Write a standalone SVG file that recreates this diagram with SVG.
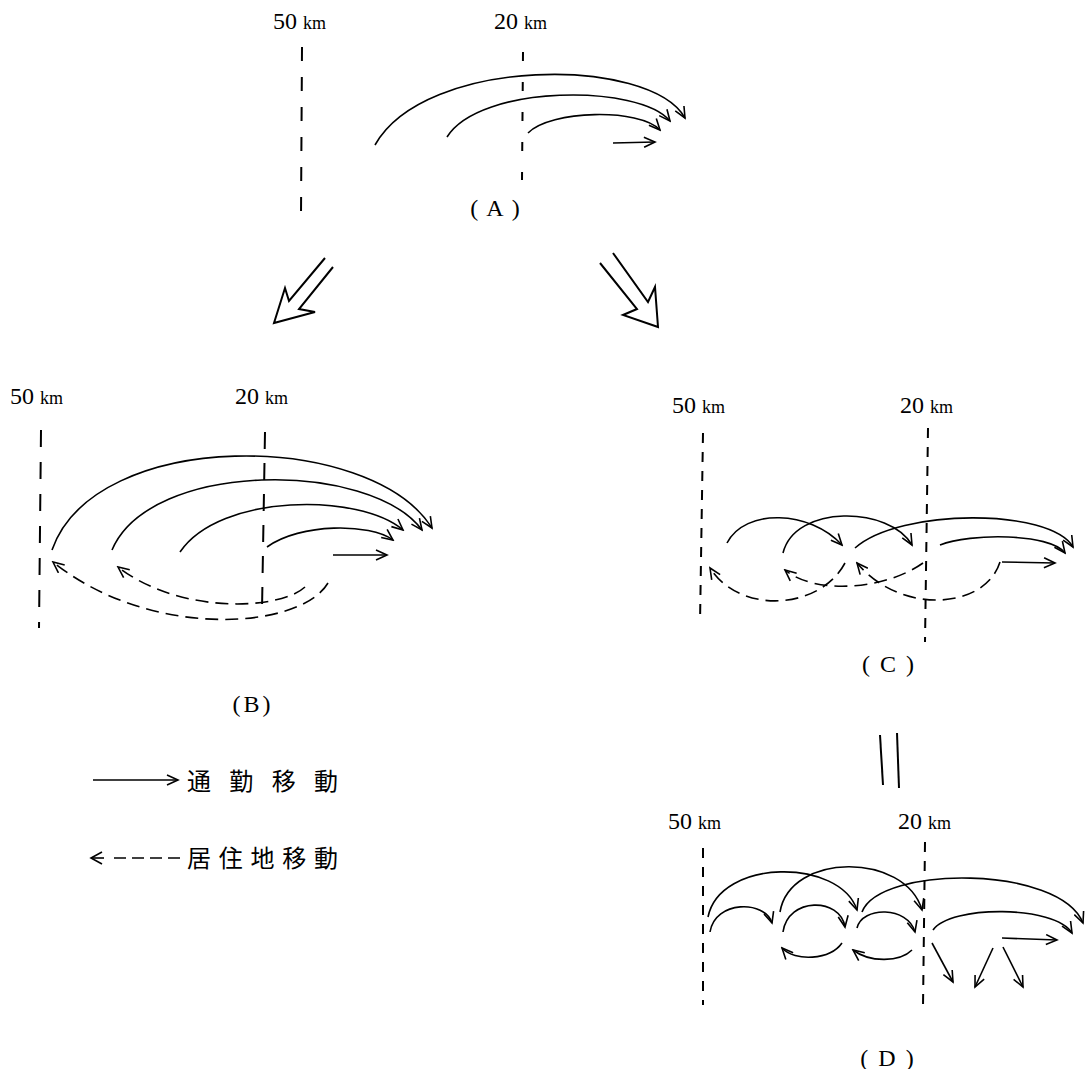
<svg xmlns="http://www.w3.org/2000/svg" width="1089" height="1069" viewBox="0 0 1089 1069">
<style>
.bg{fill:#fff}
.lbl{font-family:"Liberation Serif","Noto Sans CJK JP",serif;font-size:24px;fill:#000}
.km{font-size:18px}
.cap{font-family:"Liberation Serif","Noto Sans CJK JP",serif;font-size:24px;fill:#000;text-anchor:middle}
.leg{font-family:"Noto Sans CJK JP","Noto Sans CJK SC",sans-serif;font-size:24px;fill:#000}
.axis{stroke:#000;stroke-width:2;fill:none;stroke-dasharray:14 16}
.axisc{stroke:#000;stroke-width:2;fill:none;stroke-dasharray:10 9}
.c{stroke:#000;stroke-width:1.6;fill:none;marker-end:url(#ah)}
.r{stroke:#000;stroke-width:1.6;fill:none;stroke-dasharray:13 7;marker-end:url(#ah)}
.big{stroke:#000;stroke-width:2;fill:none;stroke-linejoin:miter}
</style>
<defs>
<marker id="ah" markerUnits="userSpaceOnUse" markerWidth="14" markerHeight="12" viewBox="0 0 14 12" refX="12" refY="6" orient="auto">
<path d="M1,1 L12,6 L1,11" fill="none" stroke="#000" stroke-width="1.6"/>
</marker>
</defs>
<rect class="bg" x="0" y="0" width="1089" height="1069"/>

<g id="panelA">
<text class="lbl" x="273" y="29">50 <tspan class="km">km</tspan></text>
<text class="lbl" x="494" y="29">20 <tspan class="km">km</tspan></text>
<line class="axis" x1="302" y1="47" x2="301" y2="217"/>
<line class="axis" x1="523" y1="52" x2="522" y2="180" style="stroke-dasharray:9 21"/>
<text class="cap" x="499" y="216" letter-spacing="8">(A)</text>
</g>

<g id="panelB">
<text class="lbl" x="10" y="404">50 <tspan class="km">km</tspan></text>
<text class="lbl" x="235" y="404">20 <tspan class="km">km</tspan></text>
<line class="axis" x1="41" y1="430" x2="39" y2="628" style="stroke-dasharray:17 15"/>
<line class="axis" x1="265" y1="432" x2="262" y2="610" style="stroke-dasharray:17 14"/>
<text class="cap" x="253" y="712" letter-spacing="3">(B)</text>
</g>

<g id="panelC">
<text class="lbl" x="672" y="413">50 <tspan class="km">km</tspan></text>
<text class="lbl" x="900" y="413">20 <tspan class="km">km</tspan></text>
<line class="axisc" x1="703" y1="433" x2="700" y2="623"/>
<line class="axisc" x1="928" y1="428" x2="925" y2="642"/>
<text class="cap" x="893" y="672" letter-spacing="10">(C)</text>
</g>

<g id="panelD">
<text class="lbl" x="668" y="829">50 <tspan class="km">km</tspan></text>
<text class="lbl" x="898" y="829">20 <tspan class="km">km</tspan></text>
<line class="axisc" x1="703" y1="848" x2="703" y2="1005"/>
<line class="axisc" x1="925" y1="842" x2="923" y2="1007"/>
<text class="cap" x="892" y="1066" letter-spacing="10">(D)</text>
</g>

<g id="legend">
<line x1="93" y1="780" x2="178" y2="780" stroke="#000" stroke-width="1.6" marker-end="url(#ah)"/>
<text class="leg" x="187" y="790" textLength="151" lengthAdjust="spacing">通 勤 移 動</text>
<line x1="180" y1="858" x2="112" y2="858" stroke="#000" stroke-width="1.6" stroke-dasharray="12 6"/>
<line x1="92" y1="858" x2="104" y2="858" stroke="#000" stroke-width="1.6"/>
<path d="M102,852 L91,858 L102,864" fill="none" stroke="#000" stroke-width="1.6"/>
<text class="leg" x="187" y="867" textLength="151" lengthAdjust="spacing">居住地移動</text>
</g>

<g id="transitions">
<polyline class="big" points="325,258 289,301 285,288 274,323 315,312 299,309 333,267"/>
<polyline class="big" points="600,263 637,309 623,315 658,327 655,287 648,302 613,253"/>
<line x1="880" y1="735" x2="883" y2="785" stroke="#000" stroke-width="2"/>
<line x1="897" y1="733" x2="899" y2="788" stroke="#000" stroke-width="2"/>
</g>

<g id="connectors">
<!-- A -->
<path class="c" d="M375,145 C425,56 650,56 685,118"/>
<path class="c" d="M447,137 C480,84 640,84 670,121"/>
<path class="c" d="M528,133 C550,110 640,108 660,130"/>
<path class="c" d="M613,143 L655,142"/>
<!-- B -->
<path class="c" d="M52,550 C95,427 370,430 432,528"/>
<path class="c" d="M112,550 C150,460 370,460 422,530"/>
<path class="c" d="M180,552 C220,493 360,493 403,530"/>
<path class="c" d="M267,547 C300,523 370,523 393,540"/>
<path class="c" d="M333,555 L387,555"/>
<path class="r" d="M328,583 C300,630 150,640 53,562"/>
<path class="r" d="M305,587 C280,610 180,615 118,567"/>
<!-- C -->
<path class="c" d="M727,543 C745,508 810,510 842,545"/>
<path class="c" d="M783,553 C795,504 890,506 912,545"/>
<path class="c" d="M855,548 C900,508 1050,508 1073,547"/>
<path class="c" d="M940,545 C970,533 1050,533 1065,553"/>
<path class="c" d="M1002,562 L1055,563"/>
<path class="r" d="M845,563 C820,610 740,615 710,568"/>
<path class="r" d="M923,563 C885,590 815,595 785,570"/>
<path class="r" d="M1000,562 C985,610 900,615 857,563"/>
<!-- D -->
<path class="c" d="M708,917 C720,858 840,858 857,910"/>
<path class="c" d="M780,912 C790,852 905,852 922,910"/>
<path class="c" d="M862,912 C880,865 1060,865 1083,923"/>
<path class="c" d="M710,932 C715,900 765,900 772,923"/>
<path class="c" d="M783,932 C788,897 840,897 845,927"/>
<path class="c" d="M857,928 C862,906 908,906 915,932"/>
<path class="c" d="M933,930 C950,905 1055,905 1072,933"/>
<path class="c" d="M842,943 C830,960 795,962 782,948"/>
<path class="c" d="M912,950 C900,962 870,963 853,950"/>
<path class="c" d="M1002,938 L1057,940"/>
<path class="c" d="M932,943 L953,982"/>
<path class="c" d="M993,948 L975,987"/>
<path class="c" d="M1003,947 L1023,987"/>
</g>
</svg>
